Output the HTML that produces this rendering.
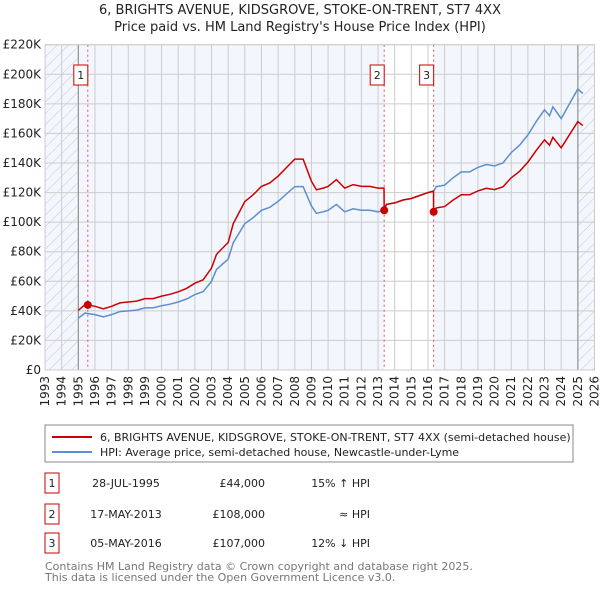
<!DOCTYPE html>
<html><head><meta charset="utf-8"><style>
body{margin:0;background:#fff;font-family:"Liberation Sans","DejaVu Sans",sans-serif;}
svg text{font-family:"DejaVu Sans","Liberation Sans",sans-serif;}
</style></head><body>
<svg id="chart" width="600" height="590" viewBox="0 0 600 590" xmlns="http://www.w3.org/2000/svg">
<defs>
<pattern id="hatch" patternUnits="userSpaceOnUse" width="8" height="8" patternTransform="rotate(45)">
<line x1="0" y1="0" x2="0" y2="8" stroke="#c8c8c8" stroke-width="1"/>
</pattern>
</defs>
<text x="300" y="14" text-anchor="middle" font-size="13" fill="#222">6, BRIGHTS AVENUE, KIDSGROVE, STOKE-ON-TRENT, ST7 4XX</text>
<text x="300" y="31" text-anchor="middle" font-size="13" fill="#222">Price paid vs. HM Land Registry's House Price Index (HPI)</text>
<g id="plot"></g>
<rect x="45" y="425" width="528" height="37" fill="#fff" stroke="#888"/>
<line x1="52" y1="437" x2="92" y2="437" stroke="#cc0000" stroke-width="2"/>
<text x="100" y="441" font-size="11" fill="#222">6, BRIGHTS AVENUE, KIDSGROVE, STOKE-ON-TRENT, ST7 4XX (semi-detached house)</text>
<line x1="52" y1="452" x2="92" y2="452" stroke="#5b8fd0" stroke-width="2"/>
<text x="100" y="456" font-size="11" fill="#222">HPI: Average price, semi-detached house, Newcastle-under-Lyme</text>
<g id="table" font-size="11" fill="#222"></g>
<text x="45" y="570" font-size="11" fill="#777">Contains HM Land Registry data © Crown copyright and database right 2025.</text>
<text x="45" y="581" font-size="11" fill="#777">This data is licensed under the Open Government Licence v3.0.</text>
</svg>
<script>
const hpiYears=[1995.0,1995.4,1996,1996.5,1997,1997.5,1998,1998.5,1999,1999.5,2000,2000.5,2001,2001.5,2002,2002.5,2003,2003.3,2004,2004.3,2005,2005.5,2006,2006.5,2007,2007.5,2008,2008.5,2009,2009.3,2009.7,2010,2010.5,2011,2011.5,2012,2012.5,2013,2013.37,2013.5,2014,2014.5,2015,2015.5,2016,2016.34,2016.5,2017,2017.5,2018,2018.5,2019,2019.5,2020,2020.5,2021,2021.5,2022,2022.5,2023,2023.3,2023.5,2024,2024.5,2025,2025.3];
const hpiValues=[35,38.5,37.5,36,37.5,39.5,40,40.5,42,42,43.5,44.5,46,48,51,53,60,68,75,86,99,103,108,110,114,119,124,124,111,106,107,108,112,107,109,108,108,107,108,112,113,115,116,118,120,121,124,125,130,134,134,137,139,138,140,147,152,159,168,176,172,178,170,180,190,187];
const redYears=[1995.0,1995.4,1996,1996.5,1997,1997.5,1998,1998.5,1999,1999.5,2000,2000.5,2001,2001.5,2002,2002.5,2003,2003.3,2004,2004.3,2005,2005.5,2006,2006.5,2007,2007.5,2008,2008.5,2009,2009.3,2009.7,2010,2010.5,2011,2011.5,2012,2012.5,2013,2013.36,2013.37,2013.5,2014,2014.5,2015,2015.5,2016,2016.33,2016.34,2016.5,2017,2017.5,2018,2018.5,2019,2019.5,2020,2020.5,2021,2021.5,2022,2022.5,2023,2023.3,2023.5,2024,2024.5,2025,2025.3];
const redValues=[40.3,44.3,43.1,41.4,43.1,45.4,46,46.6,48.3,48.3,50,51.2,52.9,55.2,58.7,61,69,78.2,86.3,98.9,113.9,118.5,124.2,126.5,131.1,136.9,142.6,142.6,127.7,121.9,123,124.2,128.8,123,125.4,124.2,124.2,123,123,108,112,113,115,116,118,120,121,107,109.6,110.5,114.9,118.5,118.5,121.1,122.9,122,123.8,130,134.4,140.6,148.5,155.6,152,157.4,150.3,159.1,168,165.3];
const saleLabels=["1","2","3"];
const saleYears=[1995.57,2013.37,2016.34];
const saleValues=[44,108,107];
const saleDates=["28-JUL-1995","17-MAY-2013","05-MAY-2016"];
const salePrices=["£44,000","£108,000","£107,000"];
const saleHpi=["15% ↑ HPI","≈ HPI","12% ↓ HPI"];
const yTicks=[0,20,40,60,80,100,120,140,160,180,200,220];
const yTickLabels=["£0","£20K","£40K","£60K","£80K","£100K","£120K","£140K","£160K","£180K","£200K","£220K"];
const xStart=1993,xEnd=2026,dataStart=1995,dataEnd=2025.0;

const NS="http://www.w3.org/2000/svg";
const L=45,R=594.5,T=44.7,B=370;
const xs=y=>L+(y-xStart)/(xEnd-xStart)*(R-L);
const ys=v=>B-v/220*(B-T);
const plot=document.getElementById('plot');
function mk(tag,attrs,parent){const e=document.createElementNS(NS,tag);for(const k in attrs)e.setAttribute(k,attrs[k]);(parent||plot).appendChild(e);return e;}

let e;
e=mk('rect',{x:L,y:T,width:R-L,height:B-T,fill:'#f3f6fd'});


e=mk('rect',{x:xs(saleYears[1]),y:T,width:xs(saleYears[2])-xs(saleYears[1]),height:B-T,fill:'#fff'});


e=mk('rect',{x:L,y:T,width:xs(dataStart)-L,height:B-T,fill:'url(#hatch)'});


e=mk('rect',{x:xs(dataEnd),y:T,width:R-xs(dataEnd),height:B-T,fill:'url(#hatch)'});


for(let i=0;i<yTicks.length;i++){
  e=mk('line',{x1:L,x2:R,y1:ys(yTicks[i]),y2:ys(yTicks[i]),stroke:'#cccccc','stroke-width':1});
  
  
  e=mk('text',{x:L-4,y:ys(yTicks[i])+4,'text-anchor':'end','font-size':'12',fill:'#222'});
  e.textContent=yTickLabels[i];
  
  
}
for(let yr=xStart;yr<=xEnd;yr++){
  e=mk('line',{x1:xs(yr),x2:xs(yr),y1:T,y2:B,stroke:'#cccccc','stroke-width':1});
  
  
  const tx=xs(yr)+4,ty=B+6;
  e=mk('text',{x:tx,y:ty,'text-anchor':'end','font-size':'12',fill:'#222',transform:`rotate(-90 ${tx} ${ty})`});
  e.textContent=String(yr);
  
  
}
e=mk('line',{x1:xs(dataStart),x2:xs(dataStart),y1:T,y2:B,stroke:'#888','stroke-width':1});


e=mk('line',{x1:xs(dataEnd),x2:xs(dataEnd),y1:T,y2:B,stroke:'#888','stroke-width':1});


for(let i=0;i<saleYears.length;i++){
  e=mk('line',{x1:xs(saleYears[i]),x2:xs(saleYears[i]),y1:T,y2:B,stroke:'#e05050','stroke-width':1,'stroke-dasharray':'2,3'});
  
  
}
function pathOf(xa,va){return xa.map((x,i)=>(i?'L':'M')+xs(x).toFixed(1)+','+ys(va[i]).toFixed(1)).join(' ');}
e=mk('path',{d:pathOf(hpiYears,hpiValues),fill:'none',stroke:'#5b8fd0','stroke-width':1.5});


e=mk('path',{d:pathOf(redYears,redValues),fill:'none',stroke:'#cc0000','stroke-width':1.5});


for(let i=0;i<saleYears.length;i++){
  e=mk('circle',{cx:xs(saleYears[i]),cy:ys(saleValues[i]),r:4,fill:'#cc0000'});
  
  
  const bx=xs(saleYears[i])-(i==0?14:7)+(i==0?3:0);
  e=mk('rect',{x:xs(saleYears[i])-14,y:65,width:14,height:20,fill:'#fff',stroke:'#cc0000'});
  
  
  e=mk('text',{x:xs(saleYears[i])-7,y:79,'text-anchor':'middle','font-size':'11',fill:'#222'});
  e.textContent=saleLabels[i];
  
  
}
e=mk('rect',{x:L,y:T,width:R-L,height:B-T,fill:'none',stroke:'#cccccc'});



const tbl=document.getElementById('table');
const rowY=[483,514,543];
for(let i=0;i<saleLabels.length;i++){
  const y=rowY[i];
  e=mk('rect',{x:45,y:y-10,width:14,height:20,fill:'#fff',stroke:'#cc0000'},tbl);
  
  
  e=mk('text',{x:52,y:y+4,'text-anchor':'middle'},tbl);
  e.textContent=saleLabels[i];
  
  
  e=mk('text',{x:126,y:y+4,'text-anchor':'middle'},tbl);
  e.textContent=saleDates[i];
  
  
  e=mk('text',{x:265,y:y+4,'text-anchor':'end'},tbl);
  e.textContent=salePrices[i];
  
  
  e=mk('text',{x:370,y:y+4,'text-anchor':'end'},tbl);
  e.textContent=saleHpi[i];
  
  
}
</script>
</body></html>
